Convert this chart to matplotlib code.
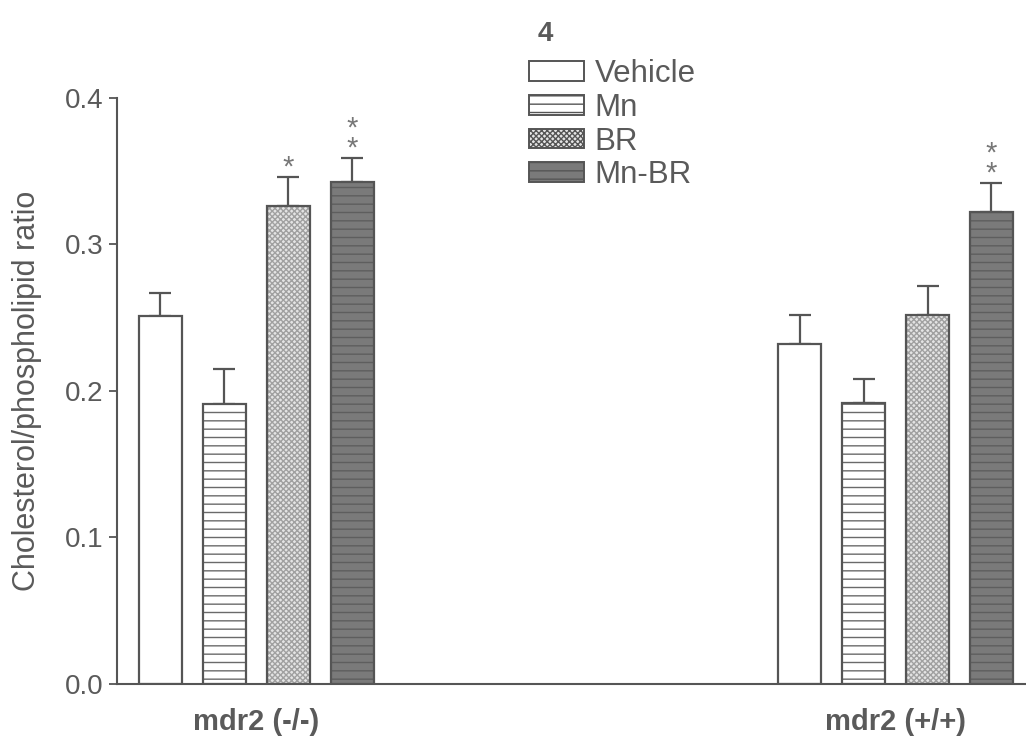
import matplotlib
matplotlib.use("Agg")
import matplotlib.pyplot as plt
import numpy as np

groups = ["mdr2 (-/-)", "mdr2 (+/+)"]
series = ["Vehicle", "Mn", "BR", "Mn-BR"]
means = {
    "Vehicle": [0.251, 0.232],
    "Mn": [0.191, 0.192],
    "BR": [0.326, 0.252],
    "Mn-BR": [0.343, 0.322],
}
errors = {
    "Vehicle": [0.016, 0.020],
    "Mn": [0.024, 0.016],
    "BR": [0.020, 0.020],
    "Mn-BR": [0.016, 0.020],
}
signif = {
    "Vehicle": ["", ""],
    "Mn": ["", ""],
    "BR": ["*", ""],
    "Mn-BR": ["**", "**"],
}
yticks = [0.0, 0.1, 0.2, 0.3, 0.4]
ylabel = "Cholesterol/phospholipid ratio"
panel = "4"

plt.rcParams['font.family'] = ['Liberation Sans', 'DejaVu Sans']
plt.rcParams['hatch.linewidth'] = 1.0

line_c = "#555555"
text_c = "#5a5a5a"

styles = {
    "Vehicle": dict(facecolor="white", hatch=None, hcolor=line_c),
    "Mn": dict(facecolor="white", hatch="--", hcolor="#6a6a6a"),
    "BR": dict(facecolor="#e4e4e4", hatch="xxxxxx", hcolor="#a0a0a0"),
    "Mn-BR": dict(facecolor="#7a7a7a", hatch="--", hcolor="#5e5e5e"),
}

fig = plt.figure(figsize=(10.26, 7.38), dpi=100)
ax = fig.add_axes([0.114, 0.0732, 0.886, 0.7940])

group_pos = np.array([0.0, 10.0])
width = 0.67
offsets = [-1.5, -0.5, 0.5, 1.5]

handles = []
for s, off in zip(series, offsets):
    st = styles[s]
    x = group_pos + off
    if st["hatch"]:
        ax.bar(x, means[s], width, color=st["facecolor"], hatch=st["hatch"],
               edgecolor=st["hcolor"], linewidth=0, zorder=2)
    else:
        ax.bar(x, means[s], width, color=st["facecolor"], linewidth=0, zorder=2)
    ax.bar(x, means[s], width, fill=False, edgecolor=line_c, linewidth=1.6, zorder=3)
    ax.errorbar(x, means[s], yerr=[np.zeros(len(x)), errors[s]], fmt="none",
                ecolor=line_c, elinewidth=1.6, capsize=8, capthick=1.6, zorder=1)
    for xi, yi, ei, sg in zip(x, means[s], errors[s], signif[s]):
        if sg:
            ax.annotate("\n".join(["*"] * len(sg)), (xi, yi + ei), xytext=(0, -3),
                        textcoords="offset points", ha="center", va="bottom",
                        fontsize=21, color="#777777", linespacing=0.62,
                        family="Liberation Sans")
    h = plt.Rectangle((0, 0), 1, 1, facecolor=st["facecolor"],
                      hatch=st["hatch"], edgecolor=line_c, linewidth=1.4)
    handles.append(h)

ax.set_xlim(-2.18, 12.04)
ax.set_ylim(0, 0.4)
ax.set_yticks(yticks)
ax.set_yticklabels([f"{t:.1f}" for t in yticks])
ax.set_xticks(group_pos)
ax.set_xticklabels(groups, fontweight="bold", fontsize=21, color=text_c)
ax.tick_params(axis="x", length=0, pad=17)
ax.tick_params(axis="y", direction="out", length=6, width=1.3, color=line_c,
               labelsize=20, labelcolor=text_c, pad=4)
ax.set_ylabel(ylabel, fontsize=22, color=text_c, labelpad=16)
for sp in ["top", "right"]:
    ax.spines[sp].set_visible(False)
for sp in ["left", "bottom"]:
    ax.spines[sp].set_color(line_c)
    ax.spines[sp].set_linewidth(1.5)

leg = fig.legend(handles, series, loc="upper left",
                 bbox_to_anchor=(529 / 1026, 1 - 59 / 738),
                 frameon=False, fontsize=22.5, handlelength=1.75, handleheight=0.6,
                 handletextpad=0.35, labelspacing=0.12, borderpad=0, borderaxespad=0)
for t in leg.get_texts():
    t.set_color(text_c)

fig.text(545 / 1026, 1 - 34 / 738, panel, fontsize=20, fontweight="bold",
         color=text_c, ha="center", va="center")

fig.savefig("out.png", dpi=100, facecolor="white")
